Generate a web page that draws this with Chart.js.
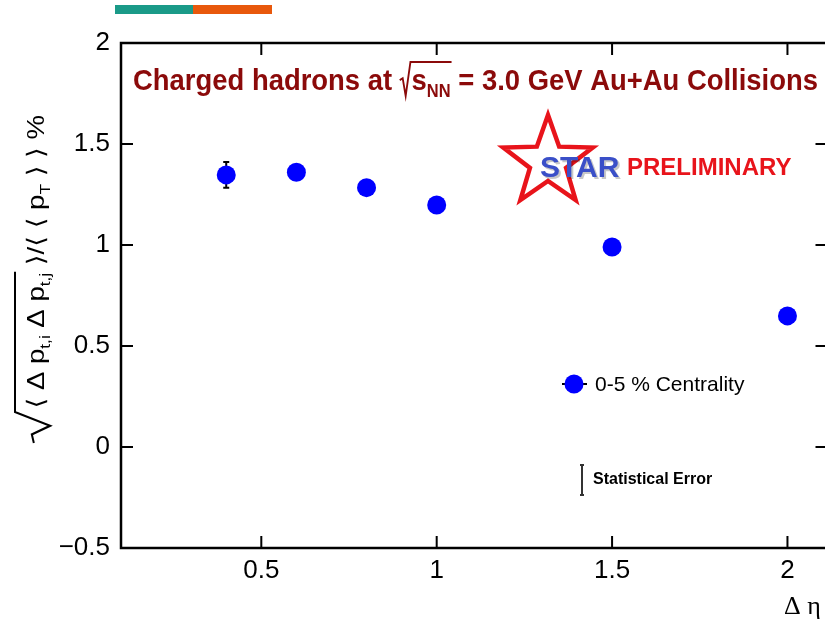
<!DOCTYPE html>
<html>
<head>
<meta charset="utf-8">
<script src="https://cdn.jsdelivr.net/npm/chart.js"></script>
<style>
  html, body { margin: 0; padding: 0; background: #fff; overflow: hidden; }
  #wrap { width: 825px; height: 620px; overflow: hidden; }
  canvas { display: block; }
</style>
</head>
<body>
<div id="wrap"><canvas id="c" width="838" height="620" style="width:838px;height:620px"></canvas></div>
<script>
// Δη window widths and the pT correlation (in %) for 0-5% central events
const deltaEta = [0.4, 0.6, 0.8, 1.0, 1.5, 2.0];
const sigmaPt  = [1.347, 1.360, 1.284, 1.198, 0.990, 0.649];
const statErr  = [0.064, 0.008, 0.008, 0.008, 0.008, 0.008];
const xTicks = [0.5, 1, 1.5, 2];
const yTicks = [-0.5, 0, 0.5, 1, 1.5, 2];
const seriesLabel = '0-5 % Centrality';

const SANS = '"Liberation Sans", Arial, sans-serif';
const NARROW = '"Liberation Sans Narrow", "Liberation Sans", Arial, sans-serif';
const MARKER = '#0000ff';

// draw a row of text pieces, optionally under a root sign; squeezed to fit width
function drawRuns(ctx, runs, width) {
  let natural = 0;
  for (const r of runs) {
    if (r.root) { natural += r.w; continue; }
    ctx.font = r.f;
    natural += ctx.measureText(r.t).width;
  }
  const sx = width ? width / natural : 1;
  ctx.scale(sx, 1);
  let u = 0, rootStart = null, rootEnd = null, rootH = 0;
  for (const r of runs) {
    if (r.root) { rootStart = u; rootH = r.h; u += r.w; continue; }
    ctx.font = r.f;
    ctx.fillText(r.t, u, r.dy || 0);
    u += ctx.measureText(r.t).width;
    if (r.over) rootEnd = u;
  }
  if (rootStart !== null) {
    const root = runs.find(r => r.root);
    ctx.beginPath();
    ctx.lineWidth = root.lw;
    ctx.moveTo(rootStart, -rootH * 0.35);
    ctx.lineTo(rootStart + root.w * 0.25, -rootH * 0.42);
    ctx.lineTo(rootStart + root.w * 0.5, root.drop);
    ctx.lineTo(rootStart + root.w * 0.9, -rootH);
    ctx.lineTo(rootEnd + 1, -rootH);
    ctx.stroke();
  }
}

function starPath(ctx, cx, cy, R, r) {
  ctx.beginPath();
  for (let k = 0; k < 10; k++) {
    const rad = k % 2 ? r : R;
    const a = -Math.PI / 2 + k * Math.PI / 5;
    const px = cx + rad * Math.cos(a), py = cy + rad * Math.sin(a);
    k ? ctx.lineTo(px, py) : ctx.moveTo(px, py);
  }
  ctx.closePath();
}

const decorations = {
  id: 'decorations',
  beforeDatasetsDraw(chart) {
    const { ctx, scales: { x, y } } = chart;
    // statistical error bars
    ctx.save();
    ctx.strokeStyle = '#000';
    ctx.lineWidth = 2;
    deltaEta.forEach((v, i) => {
      const px = x.getPixelForValue(v);
      const hi = y.getPixelForValue(sigmaPt[i] + statErr[i]);
      const lo = y.getPixelForValue(sigmaPt[i] - statErr[i]);
      ctx.beginPath();
      ctx.moveTo(px, hi); ctx.lineTo(px, lo);
      ctx.moveTo(px - 3, hi); ctx.lineTo(px + 3, hi);
      ctx.moveTo(px - 3, lo); ctx.lineTo(px + 3, lo);
      ctx.stroke();
    });
    ctx.restore();
  },
  afterDraw(chart) {
    const { ctx, chartArea: a, scales: { x, y } } = chart;
    ctx.save();

    // colour strip at the top
    ctx.fillStyle = '#1a9a88';
    ctx.fillRect(115, 5, 78, 9);
    ctx.fillStyle = '#e8580c';
    ctx.fillRect(193, 5, 79, 9);

    // frame and inward ticks
    ctx.strokeStyle = '#000';
    ctx.lineWidth = 2.5;
    ctx.strokeRect(a.left, a.top, a.right - a.left, a.bottom - a.top);
    ctx.lineWidth = 2;
    ctx.beginPath();
    xTicks.forEach(v => {
      const px = x.getPixelForValue(v);
      ctx.moveTo(px, a.bottom); ctx.lineTo(px, a.bottom - 12);
      ctx.moveTo(px, a.top); ctx.lineTo(px, a.top + 12);
    });
    yTicks.forEach(v => {
      const py = y.getPixelForValue(v);
      ctx.moveTo(a.left, py); ctx.lineTo(a.left + 12, py);
      ctx.moveTo(a.right, py); ctx.lineTo(a.right - 13, py);
    });
    ctx.stroke();

    // title
    ctx.save();
    ctx.fillStyle = '#8b0a0a';
    ctx.strokeStyle = '#8b0a0a';
    ctx.textBaseline = 'alphabetic';
    ctx.translate(133, 90);
    const big = 'bold 30px ' + NARROW, sub = 'bold 18px ' + NARROW;
    drawRuns(ctx, [
      { t: 'Charged hadrons at ', f: big },
      { root: true, w: 13, h: 28, drop: 6, lw: 2 },
      { t: 's', f: big, over: true },
      { t: 'NN', f: sub, dy: 7, over: true },
      { t: ' = 3.0 GeV Au+Au Collisions', f: big }
    ], 685);
    ctx.restore();

    // STAR preliminary logo
    ctx.save();
    starPath(ctx, 548, 162, 47, 19);
    ctx.strokeStyle = '#e8141b';
    ctx.lineWidth = 4.5;
    ctx.lineJoin = 'miter';
    ctx.stroke();
    ctx.textBaseline = 'alphabetic';
    ctx.font = 'bold 30px ' + SANS;
    ctx.fillStyle = 'rgba(0,0,0,0.22)';
    ctx.fillText('STAR', 542, 179);
    ctx.fillStyle = '#3a4fc8';
    ctx.fillText('STAR', 540, 177);
    ctx.font = 'bold 24px ' + SANS;
    ctx.fillStyle = '#e8141b';
    ctx.fillText('PRELIMINARY', 627, 175);
    ctx.restore();

    // legend entry
    ctx.beginPath();
    ctx.lineWidth = 2;
    ctx.moveTo(562, 384); ctx.lineTo(587, 384);
    ctx.stroke();
    ctx.beginPath();
    ctx.fillStyle = MARKER;
    ctx.arc(574, 384, 9.5, 0, Math.PI * 2);
    ctx.fill();
    ctx.fillStyle = '#000';
    ctx.font = '21px ' + SANS;
    ctx.textBaseline = 'middle';
    ctx.fillText(seriesLabel, 595, 385);

    // statistical error key
    ctx.strokeStyle = '#333';
    ctx.lineWidth = 2;
    ctx.beginPath();
    ctx.moveTo(582, 465); ctx.lineTo(582, 495);
    ctx.moveTo(580, 465); ctx.lineTo(584, 465);
    ctx.moveTo(580, 495); ctx.lineTo(584, 495);
    ctx.stroke();
    ctx.font = 'bold 16px ' + SANS;
    ctx.fillText('Statistical Error', 593, 480);

    // x axis title
    ctx.font = '26px "Liberation Serif", "DejaVu Serif", serif';
    ctx.textAlign = 'left';
    ctx.textBaseline = 'alphabetic';
    ctx.fillText('\u0394 \u03b7', 784, 614);

    // y axis title, rotated
    ctx.save();
    ctx.translate(44, 443);
    ctx.rotate(-Math.PI / 2);
    ctx.textAlign = 'left';
    ctx.strokeStyle = '#000';
    const f = '24px ' + SANS + ', "DejaVu Sans"', s = '15px ' + SANS;
    drawRuns(ctx, [
      { root: true, w: 30, h: 29, drop: 6, lw: 2 },
      { t: '\u27e8 \u0394 p', f: f, over: true },
      { t: 't,i', f: s, dy: 6, over: true },
      { t: ' \u0394 p', f: f, over: true },
      { t: 't,j', f: s, dy: 6, over: true },
      { t: ' \u27e9/\u27e8 \u27e8 p', f: f },
      { t: 'T', f: s, dy: 6 },
      { t: ' \u27e9 \u27e9 %', f: f }
    ], 328);
    ctx.restore();

    ctx.restore();
  }
};

// keep the plot frame fixed: no extra room for overhanging tick labels
function fixBox(s, w, h) {
  if (w) s.width = w;
  if (h) s.height = h;
  s.paddingLeft = s.paddingRight = s.paddingTop = s.paddingBottom = 0;
}

const ctx = document.getElementById('c').getContext('2d');
new Chart(ctx, {
  type: 'scatter',
  data: {
    datasets: [{
      label: seriesLabel,
      data: deltaEta.map((v, i) => ({ x: v, y: sigmaPt[i] })),
      backgroundColor: MARKER,
      borderWidth: 0,
      pointRadius: 9.5
    }]
  },
  options: {
    responsive: false,
    animation: false,
    layout: { padding: { top: 43, left: 0, right: 2, bottom: 0 } },
    plugins: { legend: { display: false }, tooltip: { enabled: false } },
    scales: {
      x: {
        type: 'linear',
        min: 0.1,
        max: 2.117,
        afterBuildTicks: s => { s.ticks = xTicks.map(v => ({ value: v })); },
        afterFit: s => fixBox(s, 0, 72),
        grid: { display: false, drawTicks: false },
        border: { display: false },
        ticks: {
          color: '#000',
          padding: 7,
          maxRotation: 0,
          font: { family: SANS, size: 26 },
          callback: v => String(v)
        }
      },
      y: {
        type: 'linear',
        min: -0.5,
        max: 2,
        afterBuildTicks: s => { s.ticks = yTicks.map(v => ({ value: v })); },
        afterFit: s => fixBox(s, 121, 0),
        grid: { display: false, drawTicks: false },
        border: { display: false },
        ticks: {
          color: '#000',
          padding: 11,
          font: { family: SANS, size: 26 },
          callback: v => (v < 0 ? '\u2212' + String(-v) : String(v))
        }
      }
    }
  },
  plugins: [decorations]
});
</script>
</body>
</html>
